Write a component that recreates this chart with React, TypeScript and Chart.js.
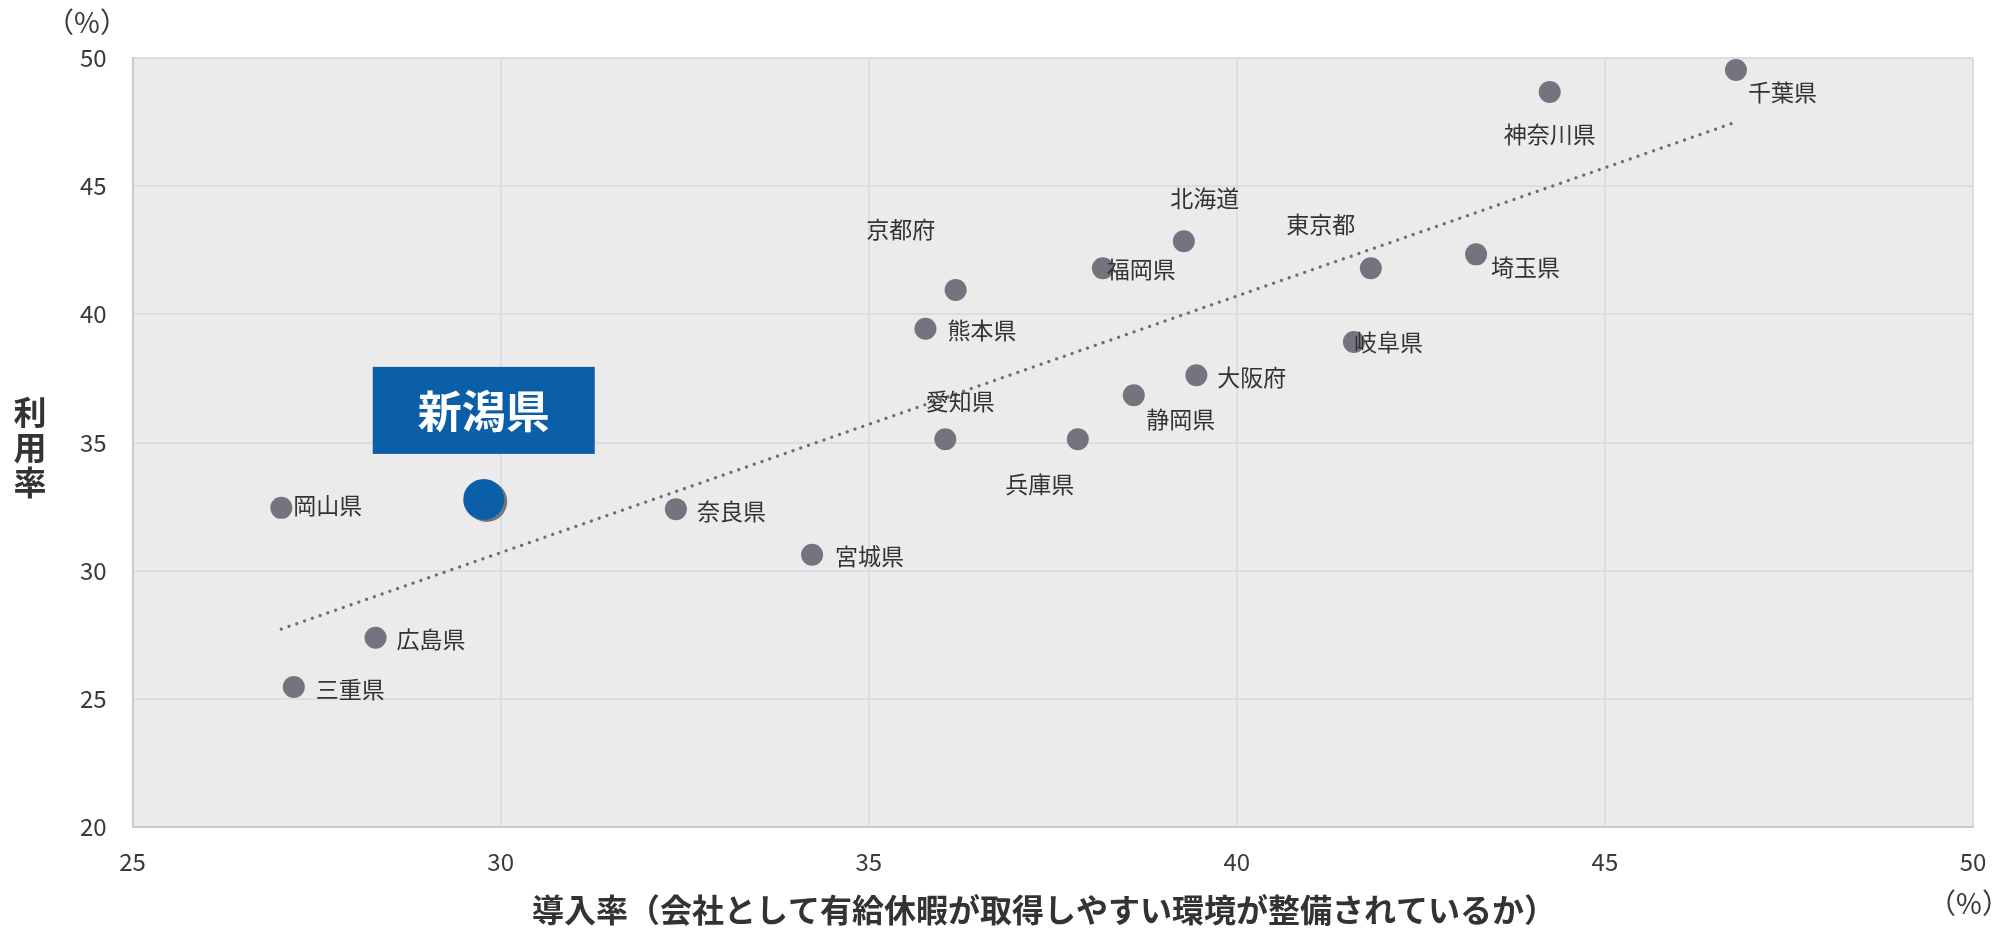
import React, { useEffect, useRef } from "react";
import { Chart, registerables } from "chart.js";
Chart.register(...registerables);

const prefectures = ["千葉県", "神奈川県", "北海道", "福岡県", "東京都", "埼玉県", "京都府", "熊本県", "岐阜県", "大阪府", "静岡県", "愛知県", "兵庫県", "宮城県", "奈良県", "岡山県", "広島県", "三重県"];
const introductionRate = [46.78, 44.25, 39.28, 38.18, 41.82, 43.25, 36.18, 35.77, 41.59, 39.45, 38.6, 36.04, 37.84, 34.23, 32.38, 27.02, 28.3, 27.19];
const utilizationRate = [49.53, 48.67, 42.85, 41.8, 41.8, 42.34, 40.95, 39.44, 38.92, 37.62, 36.84, 35.13, 35.13, 30.62, 32.4, 32.45, 27.38, 25.46];
const niigataName = "新潟県";
const niigataIntroduction = [29.77];
const niigataUtilization = [32.78];
const trendX = [27.02, 46.78];
const trendY = [27.72, 47.5];
const xMin = 25, xMax = 50, yMin = 20, yMax = 50, tickStep = 5;
const xTitle = "導入率（会社として有給休暇が取得しやすい環境が整備されているか）";
const yTitle = ["利", "用", "率"];
const unitLabel = "（%）";

// label placement (style): [dx, dy, align]
const labelPlacement: [number, number, CanvasTextAlign][] = [
  [12, 22, "left"], [0, 42, "center"], [21, -43, "center"], [4, 1, "left"], [-50, -44, "center"],
  [15, 13, "left"], [-55, -61, "center"], [22, 1.5, "left"], [0, 0, "left"], [21, 2, "left"],
  [47, 24, "center"], [15, -38, "center"], [-38, 45, "center"], [23, 1, "left"], [21, 2, "left"],
  [12, -3, "left"], [21, 1, "left"], [22, 2, "left"],
];

const FONT = "'Noto Sans CJK JP', 'Noto Sans', sans-serif";
const BLUE = "#0b5fa8";
const GRAY = "#74737e";
const TEXT = "#333333";

export default function App() {
  const ref = useRef<HTMLCanvasElement>(null);
  useEffect(() => {
    document.body.style.margin = "0";
    const ctx = ref.current!.getContext("2d")!;

    const decor = {
      id: "decor",
      beforeDraw(chart: any) {
        const { ctx, chartArea: a } = chart;
        ctx.save();
        ctx.fillStyle = "#ffffff";
        ctx.fillRect(0, 0, chart.width, chart.height);
        ctx.fillStyle = "#ebebeb";
        ctx.fillRect(a.left, a.top, a.right - a.left, a.bottom - a.top);
        ctx.restore();
      },
      beforeDatasetDraw(chart: any, args: any) {
        if (args.index === 2) {
          chart.ctx.save();
          chart.ctx.shadowColor = "#75747f";
          chart.ctx.shadowOffsetX = 3;
          chart.ctx.shadowOffsetY = 2;
          chart.ctx.shadowBlur = 0;
        }
      },
      afterDatasetDraw(chart: any, args: any) {
        if (args.index === 2) chart.ctx.restore();
      },
      afterDatasetsDraw(chart: any) {
        const { ctx } = chart;
        ctx.save();
        // prefecture labels
        const meta = chart.getDatasetMeta(1);
        ctx.font = `23px ${FONT}`;
        ctx.fillStyle = TEXT;
        ctx.textBaseline = "middle";
        meta.data.forEach((el: any, i: number) => {
          const [dx, dy, al] = labelPlacement[i];
          ctx.textAlign = al;
          ctx.fillText(prefectures[i], el.x + dx, el.y + dy);
        });
        // Niigata box
        const n = chart.getDatasetMeta(2).data[0];
        const bw = 222, bh = 87;
        const cy = n.y - 89;
        ctx.fillStyle = BLUE;
        ctx.fillRect(n.x - bw / 2, cy - bh / 2, bw, bh);
        ctx.fillStyle = "#ffffff";
        ctx.font = `bold 44px ${FONT}`;
        ctx.textAlign = "center";
        ctx.fillText(niigataName, n.x, cy + 1);
        // axis titles
        ctx.fillStyle = TEXT;
        ctx.font = `bold 33px ${FONT}`;
        yTitle.forEach((c, i) => ctx.fillText(c, 30, 412 + i * 35));
        ctx.font = `bold 32px ${FONT}`;
        ctx.textAlign = "left";
        ctx.fillText(xTitle, 532, 910);
        ctx.font = `28px ${FONT}`;
        ctx.textAlign = "center";
        ctx.fillStyle = "#3a3a3a";
        ctx.fillText(unitLabel, 87, 22);
        ctx.fillText(unitLabel, 1969, 903);
        ctx.restore();
      },
    };

    const chart = new Chart(ctx, {
      type: "scatter",
      data: {
        datasets: [
          {
            type: "line",
            data: trendX.map((x, i) => ({ x, y: trendY[i] })),
            borderColor: "#6c6c77",
            borderWidth: 3.3,
            borderDash: [0.01, 8.2],
            borderCapStyle: "round",
            pointRadius: 0,
            fill: false,
            order: 3,
          } as any,
          {
            data: introductionRate.map((x, i) => ({ x, y: utilizationRate[i] })),
            backgroundColor: GRAY,
            borderWidth: 0,
            pointRadius: 11,
            pointHoverRadius: 11,
            order: 2,
          },
          {
            data: niigataIntroduction.map((x, i) => ({ x, y: niigataUtilization[i] })),
            backgroundColor: BLUE,
            borderWidth: 0,
            pointRadius: 20.5,
            pointHoverRadius: 20.5,
            order: 1,
          },
        ],
      },
      options: {
        animation: false,
        responsive: false,
        events: [],
        layout: { padding: { top: 58, right: 42, left: 0, bottom: 0 } },
        plugins: { legend: { display: false }, tooltip: { enabled: false } },
        scales: {
          x: {
            type: "linear",
            min: xMin,
            max: xMax,
            afterFit: (s: any) => { s.height = 104; },
            ticks: { stepSize: tickStep, font: { size: 24, family: FONT }, color: "#3a3a3a", padding: 20 },
            grid: { color: "#dcdce2", lineWidth: 2, drawTicks: false },
            border: { display: true, color: "#c9c9d2", width: 2 },
          },
          y: {
            type: "linear",
            min: yMin,
            max: yMax,
            afterFit: (s: any) => { s.width = 132.6; },
            ticks: { stepSize: tickStep, font: { size: 24, family: FONT }, color: "#3a3a3a", padding: 26 },
            grid: { color: "#dcdce2", lineWidth: 2, drawTicks: false },
            border: { display: true, color: "#c9c9d2", width: 2 },
          },
        },
      },
      plugins: [decor],
    });
    return () => chart.destroy();
  }, []);
  return (
    <div style={{ position: "absolute", left: 0, top: 0, width: 2015, height: 931 }}>
      <canvas ref={ref} width={2015} height={931} style={{ width: 2015, height: 931 }} />
    </div>
  );
}
